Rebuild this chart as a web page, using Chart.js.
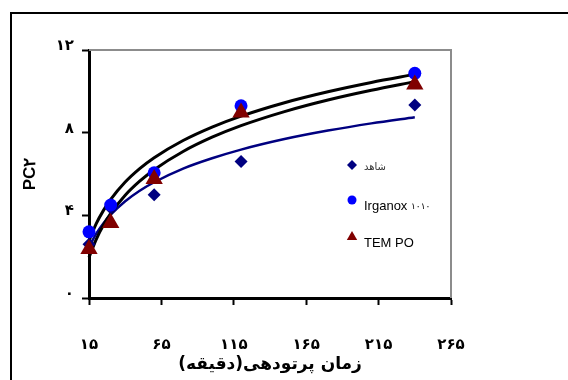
<!DOCTYPE html>
<html>
<head>
<meta charset="utf-8">
<script src="https://cdn.jsdelivr.net/npm/chart.js@4/dist/chart.umd.min.js"></script>
<style>
html, body { margin: 0; padding: 0; background: #fff; overflow: hidden; }
#frame { position: absolute; left: 10px; top: 12px; width: 600px; height: 400px; border: 2px solid #000; }
#wrap { position: absolute; left: 0; top: 0; width: 568px; height: 380px; }
</style>
</head>
<body>
<div id="frame"></div>
<div id="wrap"><canvas id="chart1" width="568" height="380"></canvas></div>
<script>
// measured points (minutes, PC2)
const times = [15, 30, 60, 120, 240];
const control = [2.6, 4.35, 5.0, 6.6, 9.34];
const irganox = [3.2, 4.5, 6.06, 9.3, 10.87];
const tempo = [2.37, 3.63, 5.76, 8.97, 10.33];

// trend curves
const trendTimes = [15, 20, 25, 30, 40, 50, 60, 80, 100, 120, 150, 180, 210, 240];
const controlTrend = [2.46, 3.11, 3.62, 4.03, 4.68, 5.19, 5.60, 6.26, 6.76, 7.18, 7.69, 8.10, 8.45, 8.75];
const irganoxTrend = [2.76, 3.60, 4.24, 4.77, 5.61, 6.26, 6.79, 7.62, 8.27, 8.80, 9.45, 9.98, 10.43, 10.82];
const tempoTrend = [1.96, 2.84, 3.53, 4.09, 4.97, 5.65, 6.21, 7.09, 7.78, 8.34, 9.02, 9.58, 10.05, 10.47];

const seriesNames = ['شاهد', 'Irganox ۱۰۱۰', 'TEM PO'];
const xTicks = [15, 65, 115, 165, 215, 265];
const xTickLabels = ['۱۵', '۶۵', '۱۱۵', '۱۶۵', '۲۱۵', '۲۶۵'];
const yTicks = [0, 4, 8, 12];
const yTickLabels = ['۰', '۴', '۸', '۱۲'];
const xTitle = 'زمان پرتودهی(دقیقه)\u200F';
const yTitle = 'PC۲';

function pts(xs, ys) {
    return xs.map((x, i) => ({x: x, y: ys[i]}));
}

const plotFrame = {
    id: 'plotFrame',
    beforeDatasetsDraw(chart) {
        const {ctx, chartArea: a} = chart;
        ctx.save();
        ctx.strokeStyle = '#8c8c8c';
        ctx.lineWidth = 2;
        ctx.beginPath();
        ctx.moveTo(a.left, a.top);
        ctx.lineTo(a.right, a.top);
        ctx.lineTo(a.right, a.bottom);
        ctx.stroke();
        ctx.restore();
    }
};

// legend sits inside the plot, Excel style
const keyBox = {
    id: 'keyBox',
    afterDraw(chart) {
        const ctx = chart.ctx;
        const rows = [
            {style: 'rectRot', color: '#000080', r: 5, y: 165, font: '10px "DejaVu Sans"', tc: '#333', dy: 2},
            {style: 'circle', color: '#0000ff', r: 4.5, y: 200, font: '13px "Liberation Sans"', tc: '#000', dy: 6},
            {style: 'triangle', color: '#800000', r: 6, y: 237, font: '13px "Liberation Sans"', tc: '#000', dy: 6}
        ];
        ctx.save();
        ctx.textBaseline = 'middle';
        ctx.textAlign = 'left';
        rows.forEach((row, i) => {
            ctx.fillStyle = row.color;
            ctx.strokeStyle = row.color;
            Chart.helpers.drawPoint(ctx, {pointStyle: row.style, radius: row.r, rotation: 0, borderWidth: 0}, 352, row.y);
            ctx.fillStyle = row.tc;
            ctx.font = row.font;
            const parts = seriesNames[i].split(' ');
            if (i === 1) {
                // the digits after Irganox are set smaller
                ctx.fillText(parts[0], 364, row.y + row.dy);
                const w = ctx.measureText(parts[0] + ' ').width;
                ctx.font = '9px "DejaVu Sans"';
                ctx.fillText(parts.slice(1).join(' '), 364 + w, row.y + row.dy + 1);
            } else {
                ctx.fillText(seriesNames[i], 364, row.y + row.dy);
            }
        });
        ctx.restore();
    }
};

function createChart1() {
    const ctx = document.getElementById('chart1');
    new Chart(ctx, {
        type: 'scatter',
        data: {
            datasets: [{
                label: seriesNames[2],
                data: pts(times, tempo),
                pointStyle: 'triangle',
                pointRadius: 10,
                backgroundColor: '#800000',
                borderColor: '#800000',
                pointBorderWidth: 0,
                clip: false
            }, {
                label: seriesNames[1],
                data: pts(times, irganox),
                pointStyle: 'circle',
                pointRadius: 6.5,
                backgroundColor: '#0000ff',
                borderColor: '#0000ff',
                pointBorderWidth: 0,
                clip: false
            }, {
                label: seriesNames[0],
                data: pts(times, control),
                pointStyle: 'rectRot',
                pointRadius: 6.5,
                backgroundColor: '#000080',
                borderColor: '#000080',
                pointBorderWidth: 0,
                clip: false
            }, {
                data: pts(trendTimes, irganoxTrend),
                showLine: true,
                pointRadius: 0,
                borderColor: '#000',
                borderWidth: 3,
                cubicInterpolationMode: 'monotone',
                clip: false
            }, {
                data: pts(trendTimes, tempoTrend),
                showLine: true,
                pointRadius: 0,
                borderColor: '#000',
                borderWidth: 3,
                cubicInterpolationMode: 'monotone',
                clip: false
            }, {
                data: pts(trendTimes, controlTrend),
                showLine: true,
                pointRadius: 0,
                borderColor: '#000080',
                borderWidth: 2.5,
                cubicInterpolationMode: 'monotone',
                clip: false
            }]
        },
        options: {
            responsive: false,
            animation: false,
            events: [],
            layout: {padding: {left: 0, top: 50, right: 117, bottom: 0}},
            plugins: {legend: {display: false}, tooltip: {enabled: false}},
            scales: {
                x: {
                    type: 'linear',
                    min: 15,
                    max: 265,
                    afterBuildTicks: s => { s.ticks = xTicks.map(v => ({value: v})); },
                    afterFit: s => { s.height = 82; },
                    grid: {drawOnChartArea: false, drawTicks: true, tickLength: 7, tickWidth: 2, tickColor: '#000'},
                    border: {display: true, color: '#000', width: 3},
                    ticks: {
                        callback: v => xTickLabels[xTicks.indexOf(v)],
                        font: {family: '"DejaVu Sans"', size: 15, weight: 'bold'},
                        color: '#000',
                        padding: 31,
                        maxRotation: 0,
                        autoSkip: false
                    },
                    title: {
                        display: true,
                        text: xTitle,
                        color: '#000',
                        font: {family: '"DejaVu Sans"', size: 17, weight: 'bold'},
                        padding: {top: 0, bottom: 5}
                    }
                },
                y: {
                    min: 0,
                    max: 12,
                    afterBuildTicks: s => { s.ticks = yTicks.map(v => ({value: v})); },
                    afterFit: s => { s.width = 89; },
                    grid: {drawOnChartArea: false, drawTicks: true, tickLength: 7, tickWidth: 2, tickColor: '#000'},
                    border: {display: true, color: '#000', width: 3},
                    ticks: {
                        callback: v => yTickLabels[yTicks.indexOf(v)],
                        font: {family: '"DejaVu Sans"', size: 15, weight: 'bold'},
                        color: '#000',
                        padding: 8,
                        labelOffset: -4
                    },
                    title: {
                        display: true,
                        text: yTitle,
                        color: '#000',
                        font: {family: '"Liberation Sans"', size: 17, weight: 'bold'},
                        padding: {top: 20, bottom: 0}
                    }
                }
            }
        },
        plugins: [plotFrame, keyBox]
    });
}

createChart1();
</script>
</body>
</html>
